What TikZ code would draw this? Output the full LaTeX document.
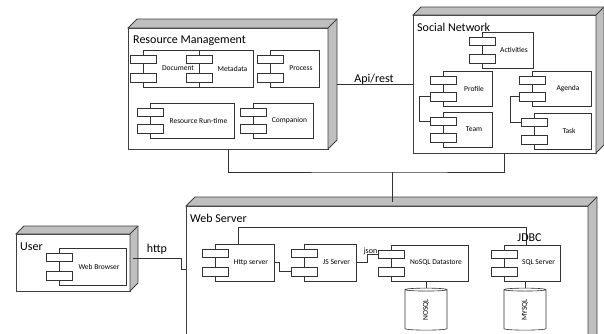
\documentclass[tikz,border=0pt]{standalone}
\usepackage{fontspec}
\setmainfont{Carlito}
\usetikzlibrary{shapes.geometric}
\tikzset{
 frontbox/.style={draw=black!75, fill=white, line width=0.8pt, inner sep=0pt, outer sep=0pt},
 face/.style={draw=black!75, fill=black!25, line width=0.8pt, line join=miter},
 cbody/.style={draw=black!80, fill=white, line width=0.6pt, inner sep=0pt, outer sep=0pt},
 ctab/.style={cbody, minimum width=26pt, minimum height=8.5pt},
 clab/.style={font=\fontsize{7.5}{8}\selectfont, inner sep=0pt},
 title/.style={font=\fontsize{12}{14}\selectfont, anchor=base west, inner sep=0pt},
 lbl/.style={font=\fontsize{12}{14}\selectfont, anchor=base, inner sep=0pt},
 conn/.style={draw=black!80, line width=0.7pt},
 cyl/.style={cylinder, draw=black!80, fill=white, rotate=90, minimum width=42pt, minimum height=42pt, aspect=0.5, inner sep=0pt, line width=0.6pt, font=\fontsize{7.5}{8}\selectfont},
}
\newcommand\threed[6]{%
 \node[frontbox, minimum width={#4-#2}, minimum height={#5-#3}] (#1) at ({(#2+#4)/2},{(#3+#5)/2}) {};
 \filldraw[face] (#1.north west) -- ++(#6,-#6) -| ([xshift=#6pt,yshift=#6pt]#1.south east) -- (#1.south east) -- (#1.north east) -- cycle;
 \draw[face, fill=none] (#1.north east) -- ++(#6,-#6);
}
\newcommand\comp[6]{%
 \node[cbody, minimum width={#4-#2}, minimum height={#5-#3}] (#1) at ({(#2+#4)/2},{(#3+#5)/2}) {};
 \node[ctab] (#1-a) at (#2,{#3+9.25}) {};
 \node[ctab] (#1-b) at (#2,{#5-9.25}) {};
 \node[clab] (#1-l) at ({(#2+13+#4)/2},{(#3+#5)/2}) {#6};
}
\begin{document}
\begin{tikzpicture}[x=1pt,y=-1pt]
\useasboundingbox (0,0) rectangle (604,333);
\clip (0,0) rectangle (604,333);
\fill[white] (0,0) rectangle (604,333);
% big nodes
\threed{rm}{128}{28}{328}{149}{9}
\threed{sn}{413}{15}{596}{153}{8}
\threed{user}{16}{234}{130}{291}{8}
\threed{ws}{186}{206}{588}{345}{9}
\node[title] (rm-t) at (133,43) {Resource Management};
\node[title] (sn-t) at (417,31.5) {Social Network};
\node[title] (user-t) at (20,250) {User};
\node[title] (ws-t) at (190,222) {Web Server};
% Resource Management
\node[cbody, minimum width=110pt, minimum height=37pt] (doc) at (198,68.5) {};
\node[ctab] (doc-a) at (143,59.25) {};
\node[ctab] (doc-b) at (143,77.75) {};
\node[clab] (doc-l) at (178,68.5) {Document};
\comp{meta}{199}{50}{253}{87}{Metadata}
\comp{proc}{270}{50}{319}{87}{Process}
\comp{rrt}{150}{103}{234}{138}{Resource Run-time}
\comp{compa}{253}{103}{313}{138}{Companion}
% Social Network
\comp{act}{482}{32}{533}{68}{Activities}
\comp{prof}{443}{71}{492}{106}{Profile}
\comp{team}{443}{112}{492}{147}{Team}
\comp{agenda}{532}{71}{591}{106}{Agenda}
\comp{task}{534}{113}{591}{149}{Task}
% User
\comp{wb}{59}{248}{126}{285}{Web Browser}
% Web Server
\comp{http}{215}{244}{274}{281}{Http server}
\comp{js}{304}{244}{356}{281}{JS Server}
\comp{nosql}{391}{245}{468}{281}{NoSQL Datastore}
\comp{sql}{504}{245}{560}{281}{SQL Server}
\node[cyl] (nosqldb) at (426,310) {NOSQL};
\node[cyl] (mysqldb) at (525,310) {MYSQL};
% connectors
\draw[conn] (prof-b.west) -- ++(-11,0) |- (team-a.west);
\draw[conn] (agenda-b.west) -- ++(-9,0) |- (task-a.west);
\draw[conn] (http.east) -- ++(5,0) |- (js-b.west);
\draw[conn] (js.east) -- ++(11,0) |- (nosql-a.west);
\node[font=\fontsize{8}{9}\selectfont, anchor=base, inner sep=0pt] (json) at (370.5,253) {json};
\draw[conn] ([xshift=-6.5pt]http.north) -- ++(0,-17) -| ([xshift=-6pt]sql.north);
\node[lbl] (jdbc) at (529.5,241) {JDBC};
\draw[conn] (nosql.south -| nosqldb.east) -- (nosqldb.east);
\draw[conn] (sql.south -| mysqldb.east) -- (mysqldb.east);
\coordinate (rmR) at ([xshift=9pt]rm.east);
\draw[conn] (rmR |- sn.west) -- (sn.west);
\node[lbl] (api) at (374,82) {Api/rest};
\coordinate (bus) at (392,172);
\draw[conn] (rm.south) |- (bus) -| (sn.south);
\draw[conn] (bus) -- ([yshift=4pt]bus |- ws.north);
\coordinate (uR) at ([xshift=3pt,yshift=4.5pt]user.east);
\coordinate (hb) at (181,269);
\draw[conn] (uR) -| (hb) -- (hb -| ws.west);
\node[lbl] (httpl) at (157,252.5) {http};
\end{tikzpicture}
\end{document}
